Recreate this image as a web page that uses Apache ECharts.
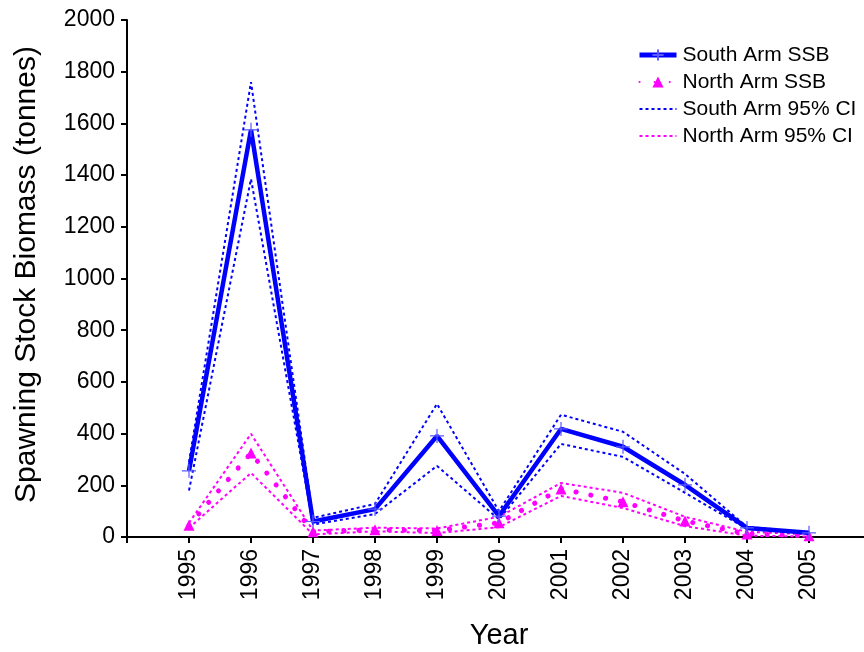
<!DOCTYPE html>
<html>
<head>
<meta charset="utf-8">
<script src="https://cdn.jsdelivr.net/npm/echarts@6/dist/echarts.min.js"></script>
<style>
  html, body { margin: 0; padding: 0; background: #fff; }
  #chart { width: 864px; height: 652px; }
</style>
</head>
<body>
<div id="chart"></div>
<script>
// Spawning stock biomass estimates (tonnes) by year, with 95% confidence bounds
const years = [1995, 1996, 1997, 1998, 1999, 2000, 2001, 2002, 2003, 2004, 2005];
const southSSB   = [256, 1575, 60, 108, 391, 81, 418, 349, 202, 35, 16];
const southUpper = [290, 1760, 74, 128, 515, 100, 473, 407, 244, 39, 18];
const southLower = [180, 1385, 48, 89, 275, 68, 360, 310, 171, 31, 13];
const northSSB   = [45, 325, 20, 28, 25, 55, 186, 136, 62, 12, 5];
const northUpper = [55, 399, 25, 36, 33, 78, 209, 171, 78, 20, 10];
const northLower = [35, 248, 10, 22, 15, 38, 159, 112, 42, 5, 2];
const yTicks = [0, 200, 400, 600, 800, 1000, 1200, 1400, 1600, 1800, 2000];

const BLUE = '#0000ff';
const MAGENTA = '#ff00ff';
const FONT = '"Liberation Sans", Arial, sans-serif';

const pair = (arr) => years.map((y, i) => [y, arr[i]]);
const plus = 'path://M0,5L10,5M5,0L5,10';

const chart = echarts.init(document.getElementById('chart'), null, { renderer: 'canvas' });

chart.setOption({
  animation: false,
  backgroundColor: '#fff',
  // the year axis runs 1994..2006 and is cut by the right edge of the canvas
  grid: { left: 127, width: 744, top: 20, bottom: 115, containLabel: false, outerBoundsMode: 'none' },
  legend: {
    orient: 'vertical',
    left: 632,
    top: 38,
    itemWidth: 37,
    itemHeight: 14,
    itemGap: 3,
    textStyle: { fontFamily: FONT, fontSize: 21, color: '#000', padding: [0, 0, 0, 1], lineHeight: 24 },
    data: [
      { name: 'South Arm SSB', lineStyle: { width: 5 } },
      { name: 'North Arm SSB' },
      { name: 'South Arm 95% CI', itemStyle: { opacity: 0 } },
      { name: 'North Arm 95% CI', itemStyle: { opacity: 0 } }
    ]
  },
  xAxis: {
    type: 'value',
    min: 1994,
    max: 2006,
    interval: 1,
    name: 'Year',
    nameLocation: 'middle',
    nameGap: 84,
    nameTextStyle: { fontFamily: FONT, fontSize: 29, color: '#000' },
    axisLine: { show: true, lineStyle: { color: '#000', width: 2 } },
    axisTick: { show: true, length: 6, lineStyle: { color: '#000', width: 2 } },
    axisLabel: {
      rotate: 90,
      margin: 12,
      fontFamily: FONT,
      fontSize: 23,
      color: '#000',
      formatter: (v) => (years.indexOf(v) >= 0 ? String(v) : '')
    },
    splitLine: { show: false }
  },
  yAxis: {
    type: 'value',
    min: 0,
    max: 2000,
    interval: 200,
    name: 'Spawning Stock Biomass (tonnes)',
    nameLocation: 'middle',
    nameGap: 85,
    nameTextStyle: { fontFamily: FONT, fontSize: 30, color: '#000', padding: [0, 0, 0, 8] },
    axisLine: { show: true, lineStyle: { color: '#000', width: 2 } },
    axisTick: { show: true, length: 6, lineStyle: { color: '#000', width: 2 } },
    axisLabel: {
      margin: 12,
      fontFamily: FONT,
      fontSize: 23,
      color: '#000',
      formatter: (v) => (yTicks.indexOf(v) >= 0 ? String(v) : '')
    },
    splitLine: { show: false }
  },
  series: [
    {
      name: 'South Arm 95% CI',
      type: 'line',
      data: pair(southUpper),
      symbol: 'none',
      color: BLUE,
      lineStyle: { color: BLUE, width: 2, type: [3, 3] },
      z: 2
    },
    {
      name: 'South Arm 95% CI',
      type: 'line',
      data: pair(southLower),
      symbol: 'none',
      color: BLUE,
      lineStyle: { color: BLUE, width: 2, type: [3, 3] },
      z: 2
    },
    {
      name: 'North Arm 95% CI',
      type: 'line',
      data: pair(northUpper),
      symbol: 'none',
      color: MAGENTA,
      lineStyle: { color: MAGENTA, width: 2, type: [3, 3] },
      z: 2
    },
    {
      name: 'North Arm 95% CI',
      type: 'line',
      data: pair(northLower),
      symbol: 'none',
      color: MAGENTA,
      lineStyle: { color: MAGENTA, width: 2, type: [3, 3] },
      z: 2
    },
    {
      name: 'North Arm SSB',
      type: 'line',
      data: pair(northSSB),
      symbol: 'triangle',
      symbolSize: 11,
      color: MAGENTA,
      itemStyle: { color: MAGENTA },
      lineStyle: { color: MAGENTA, width: 5, type: [0.1, 15], cap: 'round' },
      z: 3
    },
    {
      name: 'South Arm SSB',
      type: 'line',
      data: pair(southSSB),
      symbol: plus,
      symbolSize: 14,
      showAllSymbol: true,
      color: BLUE,
      itemStyle: { color: 'none', borderColor: '#5a5aff', borderWidth: 1.2 },
      lineStyle: { color: BLUE, width: 4.5 },
      z: 4
    }
  ]
});
</script>
</body>
</html>
